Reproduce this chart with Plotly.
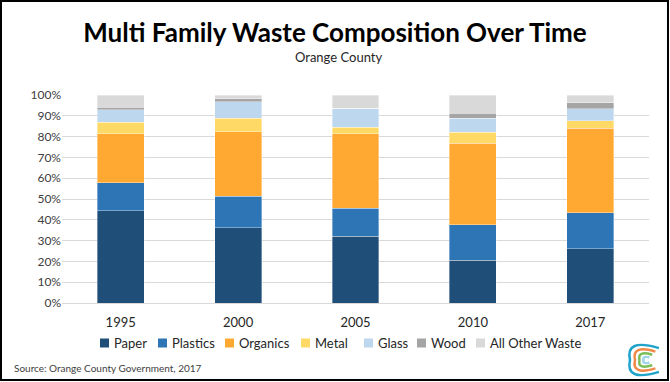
import plotly.graph_objects as go

years = ["1995", "2000", "2005", "2010", "2017"]

paper = [44.4, 36.2, 32.2, 20.5, 26.1]
plastics = [13.4, 15.1, 13.3, 17.1, 17.3]
organics = [23.6, 31.1, 35.8, 39.2, 40.6]
metal = [5.6, 6.4, 3.3, 5.4, 3.6]
glass = [5.9, 8.0, 9.0, 6.7, 5.7]
wood = [1.3, 1.3, 0.0, 2.4, 2.9]
other = [5.8, 1.9, 6.4, 8.7, 3.8]

names = ["Paper", "Plastics", "Organics", "Metal", "Glass", "Wood", "All Other Waste"]
colors = ["#1F4E79", "#2E75B6", "#FFA933", "#FFD966", "#BDD7EE", "#A5A5A5", "#D9D9D9"]
values = [paper, plastics, organics, metal, glass, wood, other]

W, H = 670, 382
L, R, T, B = 62, 21, 95, 79
pw, ph = W - L - R, H - T - B


def px(x):
    return (x - L) / pw


def py(y):
    return (H - B - y) / ph


fig = go.Figure()
for name, vals, col in zip(names, values, colors):
    fig.add_trace(go.Bar(x=years, y=vals, name=name, showlegend=False,
                         marker=dict(color=col, line=dict(color="rgba(255,255,255,0.6)", width=0.6))))

fig.update_layout(
    barmode="stack",
    bargap=0.6,
    width=W, height=H,
    margin=dict(l=L, r=R, t=T, b=B),
    plot_bgcolor="white",
    paper_bgcolor="white",
    font=dict(family="Lato", size=12, color="#262626"),
    title=dict(text="<b>Multi Family Waste Composition Over Time</b>",
               x=0.5, xref="container", xanchor="center", y=1 - 33 / H, yanchor="middle",
               font=dict(size=26, color="black")),
    yaxis=dict(range=[0, 100], dtick=10, ticksuffix="%", showgrid=True,
               gridcolor="#D9D9D9", gridwidth=1, zeroline=False,
               tickfont=dict(size=12, color="#404040"), ticks=""),
    xaxis=dict(showline=True, linecolor="#D9D9D9", tickfont=dict(size=13, color="#262626"),
               ticks="", ticklabelstandoff=7),
)

fig.add_annotation(text="Orange County", x=px(338), xref="paper", y=py(57), yref="paper",
                   yanchor="middle", showarrow=False, font=dict(size=13, color="#262626"))
fig.add_annotation(text="Source: Orange County Government, 2017", x=px(12), xref="paper",
                   xanchor="left", y=py(368), yref="paper", yanchor="middle", showarrow=False,
                   font=dict(size=10, color="#404040"))

# legend drawn by hand so that it stays on one row
leg_x = [100, 158, 225, 301, 364, 417, 476]
leg_y = 343
for xx, name, col in zip(leg_x, names, colors):
    fig.add_shape(type="rect", xref="paper", yref="paper",
                  x0=px(xx), x1=px(xx + 9), y0=py(leg_y + 4.5), y1=py(leg_y - 4.5),
                  fillcolor=col, line=dict(width=0))
    fig.add_annotation(text=name, x=px(xx + 12), xref="paper", xanchor="left",
                       y=py(leg_y), yref="paper", yanchor="middle", showarrow=False,
                       font=dict(size=13, color="#262626"))

# outer frame
fig.add_shape(type="rect", xref="paper", yref="paper",
              x0=px(1), x1=px(668), y0=py(380), y1=py(1),
              line=dict(color="black", width=2))

# small logo in the corner
cx, cy = 647, 360
for r, col in [(17, "#1FA3C9"), (12, "#F08A4B"), (7.5, "#7DBE5A"), (3.5, "#9FD6E8")]:
    fig.add_shape(type="path", xref="paper", yref="paper",
                  path="M %f,%f Q %f,%f %f,%f Q %f,%f %f,%f" % (
                      px(cx + r * 0.7), py(cy - r * 0.7),
                      px(cx - r * 1.3), py(cy - r * 1.3),
                      px(cx - r), py(cy),
                      px(cx - r * 1.3), py(cy + r * 1.3),
                      px(cx + r * 0.7), py(cy + r * 0.7)),
                  line=dict(color=col, width=2.5))

fig.write_html("out.html", config={"displayModeBar": False},
               post_script="document.body.style.margin='0';")
